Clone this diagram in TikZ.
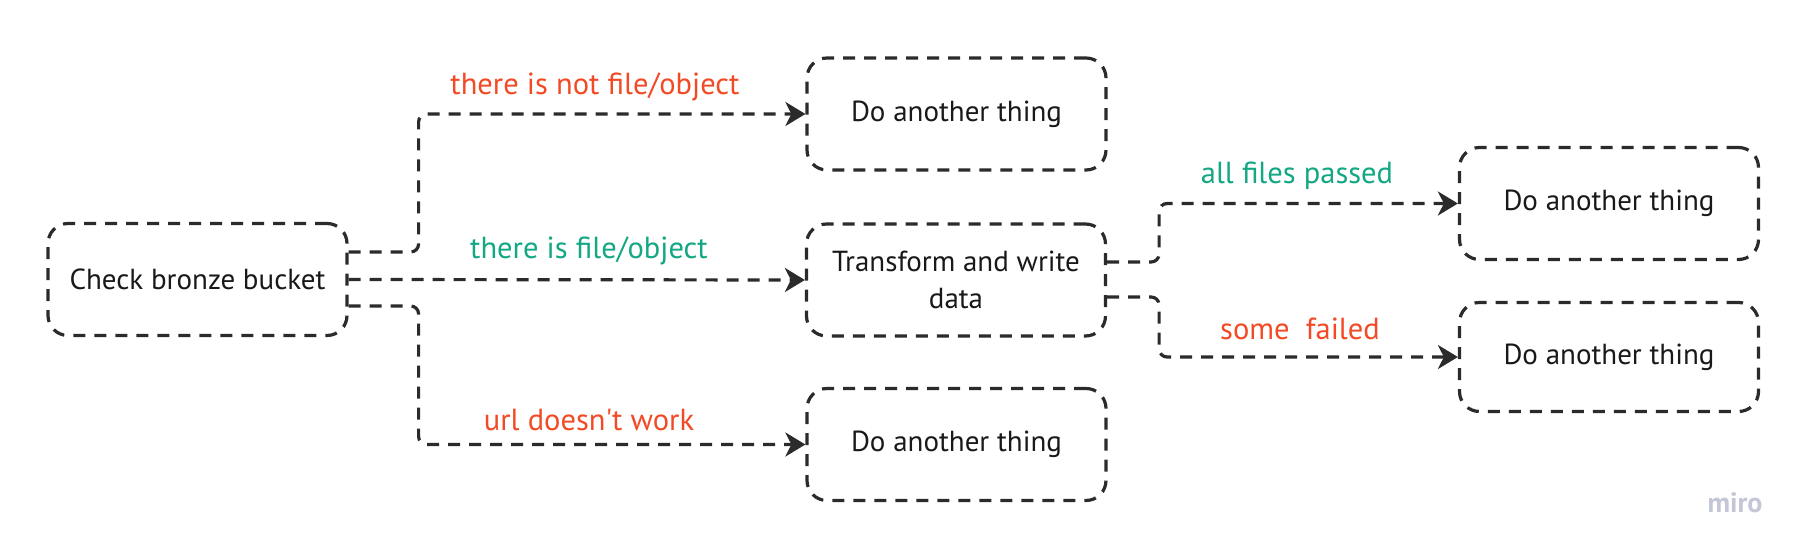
\documentclass[tikz,border=0pt]{standalone}
\usepackage{fontspec}
\setmainfont{PT Sans}
\usetikzlibrary{arrows.meta, positioning}
\definecolor{inkdark}{HTML}{2B2B2B}
\definecolor{nored}{HTML}{F24A25}
\definecolor{okgreen}{HTML}{13A784}
\definecolor{mirogray}{HTML}{C3C6D6}

\begin{document}
\begin{tikzpicture}[x=1pt, y=-1pt,
    box/.style={draw=inkdark, line width=3.2pt, dash pattern=on 12pt off 9pt,
      rounded corners=20pt, minimum width=299pt, minimum height=112pt,
      align=center, font=\fontsize{29}{37}\selectfont, text=black!90},
    flow/.style={draw=inkdark, line width=3.2pt, dash pattern=on 12pt off 9pt,
      rounded corners=8pt, -{Stealth[length=20pt, width=24pt, inset=6pt]}},
    lbl/.style={font=\fontsize{30.5}{34}\selectfont}]
    \useasboundingbox (0,0) rectangle (1805,553);

    % Start
    \node[box] (check) at (197.5, 279.5) {Check bronze bucket};

    % First level
    \node[box] (nofile) at (956.5, 114) {Do another thing};
    \node[box] (transform) at (956, 280) {Transform and write\\data};
    \node[box] (nourl) at (956.5, 444.5) {Do another thing};

    % Second level
    \node[box] (passed) at (1609, 203.5) {Do another thing};
    \node[box, minimum height=109pt] (failed) at (1609, 357) {Do another thing};

    % Connections from check
    \draw[flow] ([yshift=27.5pt]check.east) -- ++(70,0) |- (nofile.west);
    \draw[flow] (check.east) -- (transform.west);
    \draw[flow] ([yshift=-26.5pt]check.east) -- ++(70,0) |- (nourl.west);

    % Connections from transform
    \draw[flow] ([yshift=18pt]transform.east) -- ++(52,0) |- (passed.west);
    \draw[flow] ([yshift=-17pt]transform.east) -- ++(52,0) |- (failed.west);

    % Labels
    \node[lbl, text=nored] (lnofile) at (595, 87) {there is not file/object};
    \node[lbl, text=okgreen] (lfile) at (589, 251) {there is file/object};
    \node[lbl, text=nored] (lnourl) at (589, 420) {url doesn\textquotesingle t work};
    \node[lbl, text=okgreen] (lpassed) at (1297, 176) {all files passed};
    \node[lbl, text=nored] (lfailed) at (1300, 329) {some\ \ failed};

    \node[font=\fontsize{28}{32}\selectfont\bfseries, text=mirogray] (miro) at (1735, 503) {miro};
\end{tikzpicture}
\end{document}
